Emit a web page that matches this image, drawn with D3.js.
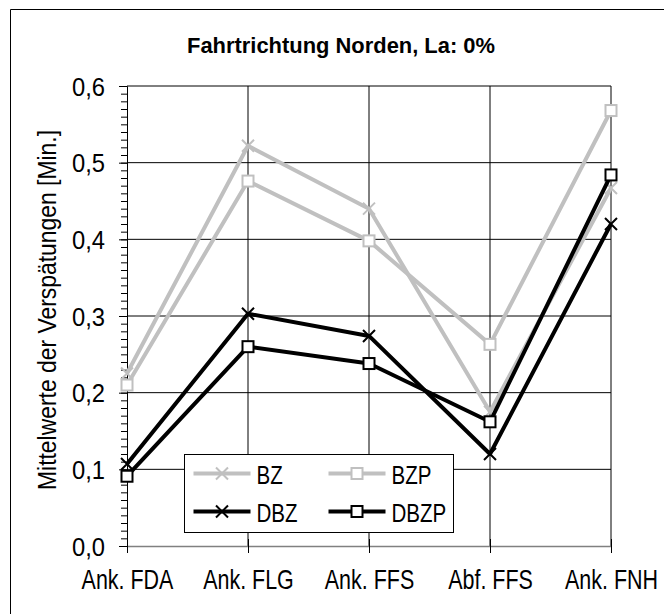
<!DOCTYPE html>
<html>
<head>
<meta charset="utf-8">
<script src="https://cdn.jsdelivr.net/npm/d3@7"></script>
<style>
	body { margin: 0; background: #fff; }
	svg { display: block; }
	text { font-family: "Liberation Sans", Arial, sans-serif; fill: #000; }
</style>
</head>
<body>
<div id="chart_area"></div>
<script>

// Data
var categories = ["Ank. FDA", "Ank. FLG", "Ank. FFS", "Abf. FFS", "Ank. FNH"];
var seriesNames = ["BZ", "BZP", "DBZ", "DBZP"];
var bz   = [0.225, 0.522, 0.440, 0.175, 0.467];
var bzp  = [0.210, 0.476, 0.398, 0.263, 0.568];
var dbz  = [0.107, 0.303, 0.274, 0.120, 0.420];
var dbzp = [0.091, 0.260, 0.238, 0.162, 0.484];
var yTicks = [0, 0.1, 0.2, 0.3, 0.4, 0.5, 0.6];

var title = "Fahrtrichtung Norden, La: 0%";
var yTitle = "Mittelwerte der Verspätungen [Min.]";

var frame_width = 664;
var frame_height = 614;

// plot area
var margin = {top: 86, right: 53, bottom: 68, left: 127};
var canvas_width = frame_width - margin.left - margin.right;
var canvas_height = frame_height - margin.top - margin.bottom;

// no narrow font installed, so squeeze the glyphs of regular text
function squeeze(sel, factor) {
	sel.each(function() {
		var w = this.getComputedTextLength();
		d3.select(this)
			.attr("textLength", w * factor)
			.attr("lengthAdjust", "spacingAndGlyphs");
	});
}

var frame = d3.select("#chart_area").append("svg")
	.attr("width", frame_width)
	.attr("height", frame_height);

// outer border (runs off to the right and bottom)
frame.append("path")
	.attr("d", "M10.5," + frame_height + "V9.5H" + frame_width)
	.attr("fill", "none")
	.attr("stroke", "#000")
	.attr("stroke-width", 1);

var canvas = frame.append("g")
	.attr("transform", "translate(" + margin.left + "," + margin.top + ")");

var xScale = d3.scalePoint().domain(categories).range([0, canvas_width]);
var yScale = d3.scaleLinear().domain([0, 0.6]).range([canvas_height, 0]);

// horizontal grid lines
canvas.append("g")
	.selectAll("line")
	.data(yTicks.slice(1))
	.enter().append("line")
	.attr("x1", 0)
	.attr("x2", canvas_width)
	.attr("y1", function(d) { return yScale(d); })
	.attr("y2", function(d) { return yScale(d); })
	.attr("stroke", "#000")
	.attr("stroke-width", 1);

// vertical grid lines
canvas.append("g")
	.selectAll("line")
	.data(categories.slice(1))
	.enter().append("line")
	.attr("x1", function(d) { return xScale(d); })
	.attr("x2", function(d) { return xScale(d); })
	.attr("y1", 0)
	.attr("y2", canvas_height)
	.attr("stroke", "#000")
	.attr("stroke-width", 1);

// minor ticks on y axis (every 0.01)
var yMinor = d3.axisLeft(yScale)
	.ticks(60)
	.tickSize(6)
	.tickFormat("");
canvas.append("g")
	.attr("class", "y minor")
	.call(yMinor)
	.call(function(g) { g.select(".domain").remove(); });

// y axis
var yAxis = d3.axisLeft(yScale)
	.tickValues(yTicks)
	.tickSize(8)
	.tickPadding(14)
	.tickFormat(function(d) { return d3.format(".1f")(d).replace(".", ","); });

var yG = canvas.append("g")
	.attr("class", "y axis")
	.call(yAxis);
yG.selectAll("text")
	.style("font-size", "25px")
	.attr("dy", "0.36em")
	.call(squeeze, 0.95);

// x axis, ticks cross the line
var xAxis = d3.axisBottom(xScale)
	.tickSizeInner(7)
	.tickSizeOuter(0)
	.tickPadding(16);

var xG = canvas.append("g")
	.attr("class", "x axis")
	.attr("transform", "translate(0," + canvas_height + ")")
	.call(xAxis);
xG.select(".domain").attr("stroke", "#808080").attr("stroke-width", 1.5);
xG.selectAll(".tick line").attr("y1", -7).attr("y2", 7);
xG.selectAll("text")
	.style("font-size", "27.5px")
	.attr("dy", "0.71em")
	.call(squeeze, 0.78);

canvas.selectAll(".minor line, .axis line").attr("stroke", "#000");
canvas.selectAll(".axis .tick text").attr("fill", "#000");

// series
var allSeries = [
	{name: seriesNames[0], values: bz, colour: "#c0c0c0", marker: "cross"},
	{name: seriesNames[1], values: bzp, colour: "#c0c0c0", marker: "square"},
	{name: seriesNames[2], values: dbz, colour: "#000", marker: "cross"},
	{name: seriesNames[3], values: dbzp, colour: "#000", marker: "square"}
];

var line = d3.line()
	.x(function(d, i) { return xScale(categories[i]); })
	.y(function(d) { return yScale(d); });

function drawMarker(g, type, colour, x, y) {
	if (type == "square") {
		g.append("rect")
			.attr("x", x - 5.5).attr("y", y - 5.5)
			.attr("width", 11).attr("height", 11)
			.attr("fill", "#fff")
			.attr("stroke", colour)
			.attr("stroke-width", 2);
	} else {
		g.append("path")
			.attr("d", "M" + (x - 6) + "," + (y - 6) + "L" + (x + 6) + "," + (y + 6) +
				"M" + (x - 6) + "," + (y + 6) + "L" + (x + 6) + "," + (y - 6))
			.attr("stroke", colour)
			.attr("stroke-width", 2)
			.attr("fill", "none");
	}
}

var data_canvas = canvas.append("g").attr("class", "data_canvas");

allSeries.forEach(function(s) {
	var g = data_canvas.append("g");
	g.append("path")
		.attr("d", line(s.values))
		.attr("fill", "none")
		.attr("stroke", s.colour)
		.attr("stroke-width", 4)
		.attr("stroke-linejoin", "round");
	s.values.forEach(function(v, i) {
		drawMarker(g, s.marker, s.colour, xScale(categories[i]), yScale(v));
	});
});

// legend
var legend = frame.append("g").attr("transform", "translate(184.5,454.5)");
legend.append("rect")
	.attr("width", 269)
	.attr("height", 78)
	.attr("fill", "#fff")
	.attr("stroke", "#000")
	.attr("stroke-width", 1);

var legendPos = [[9, 19], [144, 19], [9, 57], [144, 57]];
allSeries.forEach(function(s, i) {
	var p = legendPos[i];
	var lg = legend.append("g");
	lg.append("line")
		.attr("x1", p[0]).attr("x2", p[0] + 57)
		.attr("y1", p[1]).attr("y2", p[1])
		.attr("stroke", s.colour)
		.attr("stroke-width", 4);
	drawMarker(lg, s.marker, s.colour, p[0] + 28.5, p[1]);
	lg.append("text")
		.attr("x", p[0] + 63)
		.attr("y", p[1] + 10)
		.style("font-size", "26px")
		.text(s.name)
		.call(squeeze, 0.79);
});

// title
frame.append("text")
	.attr("x", 341)
	.attr("y", 53)
	.attr("text-anchor", "middle")
	.style("font-size", "22.5px")
	.style("font-weight", "bold")
	.text(title)
	.attr("textLength", 308)
	.attr("lengthAdjust", "spacingAndGlyphs");

// y axis title
frame.append("text")
	.attr("transform", "translate(56," + 310 + ") rotate(-90)")
	.attr("text-anchor", "middle")
	.style("font-size", "25px")
	.text(yTitle)
	.attr("textLength", 360)
	.attr("lengthAdjust", "spacingAndGlyphs");

</script>
</body>
</html>
